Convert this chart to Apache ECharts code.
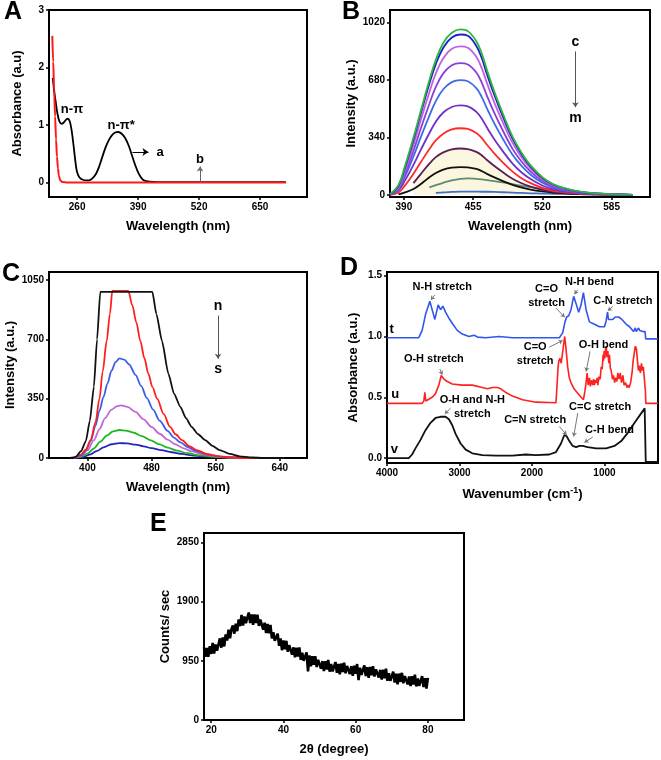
<!DOCTYPE html>
<html><head><meta charset="utf-8">
<script src="https://cdn.jsdelivr.net/npm/echarts@6/dist/echarts.min.js"></script>
<style>html,body{margin:0;padding:0;background:#fff}#c{width:661px;height:760px}</style>
</head><body><div id="c"></div>
<script>
// ---------- Panel A: UV-Vis absorbance ----------
const A_TICKS_X = [260, 390, 520, 650];
const A_TICKS_Y = [0, 1, 2, 3];
const A_CURVE_A_WL = [208,211,214,218,222,227,232,237,240,244,248,253,257,260,265,272,280,285,292,300,307,313,320,327,334,341,348,355,362,370,377,384,391,398,405,412,430,500,600,705];
const A_CURVE_A_ABS = [1.82,1.6,1.42,1.2,1.07,1.02,1.05,1.1,1.11,1.07,0.92,0.6,0.32,0.18,0.09,0.05,0.04,0.04,0.07,0.15,0.28,0.43,0.6,0.73,0.82,0.87,0.88,0.85,0.78,0.64,0.47,0.3,0.16,0.07,0.03,0.02,0.01,0.01,0.01,0.01];
const A_CURVE_B_WL = [207,209,211,213,215,217,219,221,224,228,240,705];
const A_CURVE_B_ABS = [2.55,2.1,1.6,1.15,0.75,0.45,0.25,0.12,0.04,0.01,0,0];

// ---------- Panel B: fluorescence c..m ----------
const B_TICKS_X = [390, 455, 520, 585];
const B_TICKS_Y = [0, 340, 680, 1020];
const B_WL = [377,385,391,399,406,414,420,427,435,443,450,458,463,468,475,483,492,500,509,520,530,541,555,570,588,605];
const B_C = [5,60,170,340,500,680,800,900,960,980,970,910,840,740,610,480,345,255,175,105,65,40,20,10,4,1];
const B_D = [4,55,160,325,485,660,775,872,932,950,942,882,812,715,590,462,333,245,168,100,62,38,19,9,4,1];
const B_E = [3,45,140,295,445,610,720,810,865,880,872,818,752,662,545,428,308,227,156,93,57,35,18,9,4,1];
const B_F = [3,40,125,262,395,540,640,720,768,780,772,725,667,587,484,380,273,201,138,82,50,31,16,8,3,1];
const B_G = [2,35,108,228,344,470,556,626,668,680,673,632,581,512,422,331,238,175,120,72,44,27,14,7,3,1];
const B_H = [2,27,85,178,268,367,434,488,521,530,525,492,453,399,329,258,186,136,94,56,34,21,11,5,2,1];
const B_I = [1,15,55,125,195,272,323,363,388,395,391,367,338,297,245,192,138,101,70,42,25,16,8,4,2,1];
const B_J = [null,null,null,70,125,185,224,252,270,275,272,255,235,207,171,134,96,71,49,30,19,12,7,4,2,1];
const B_K = [null,3,15,35,65,105,130,150,162,165,163,154,142,125,104,82,60,45,32,21,14,9,5,3,1,0];
const B_L = [null,null,null,null,null,45,58,72,86,95,98,95,92,88,82,74,64,55,46,37,30,24,null,null,null,null];
const B_M = [null,null,null,null,null,null,12,15,18,20,20,20,19,19,18,16,14,12,10,8,7,6,5,4,null,null];

// ---------- Panel C: fluorescence n..s ----------
const C_TICKS_X = [400, 480, 560, 640];
const C_TICKS_Y = [0, 350, 700, 1050];
const C_N = [[378,0],[385,5],[392,40],[398,100],[403,220],[408,420],[412,700],[416,980],[481,980],[486,850],[493,690],[501,497],[508,380],[516,301],[523,235],[530,184],[538,140],[547,105],[556,72],[565,47],[578,24],[590,10],[605,3],[620,0],[645,0]];
const C_O = [[383,0],[392,20],[398,50],[404,105],[410,210],[415,350],[419,510],[424,690],[428,850],[431,985],[451,985],[456,900],[461,800],[466,690],[471,590],[476,497],[481,420],[487,350],[495,260],[503,184],[510,140],[518,105],[527,70],[536,47],[550,22],[565,9],[580,3],[600,0],[645,0]];
const C_P = [[383,0],[392,15],[398,45],[404,100],[410,190],[415,280],[420,360],[425,440],[430,515],[435,565],[440,588],[446,580],[452,552],[460,490],[467,425],[474,355],[482,285],[490,220],[500,160],[508,120],[516,92],[525,65],[535,42],[550,20],[565,8],[580,3],[600,0],[645,0]];
const C_Q = [[383,0],[392,12],[400,45],[408,105],[415,170],[422,235],[430,285],[437,306],[442,310],[450,302],[460,272],[470,228],[480,183],[490,143],[500,108],[510,80],[520,57],[530,39],[545,21],[560,10],[580,3],[600,0],[645,0]];
const C_R = [[383,0],[392,8],[400,26],[408,56],[416,96],[424,132],[432,157],[440,165],[448,162],[458,149],[468,129],[478,106],[490,80],[500,61],[512,43],[525,28],[540,16],[555,8],[575,3],[600,0],[645,0]];
const C_S = [[385,0],[395,7],[403,20],[412,42],[420,63],[430,81],[440,88],[450,86],[460,79],[470,69],[480,58],[492,46],[505,34],[518,24],[530,16],[545,10],[560,5],[580,2],[600,0],[645,0]];

// ---------- Panel D: FTIR t, u, v ----------
const D_TICKS_X = [1000, 2000, 3000, 4000];
const D_TICKS_Y = [0, 0.5, 1.0, 1.5];
const D_T = [[4000,0.99],[3562,0.99],[3515,1.05],[3469,1.18],[3409,1.29],[3368,1.2],[3340,1.14],[3294,1.26],[3262,1.22],[3229,1.25],[3192,1.2],[3146,1.15],[3091,1.1],[3031,1.05],[2962,1.02],[2869,1.0],[2800,1.01],[2750,0.995],[2639,0.99],[2454,1.0],[2269,0.99],[2039,0.99],[1808,0.99],[1623,0.99],[1577,1.03],[1545,1.12],[1522,1.16],[1494,1.17],[1462,1.22],[1425,1.33],[1392,1.27],[1356,1.2],[1323,1.26],[1291,1.36],[1254,1.22],[1208,1.12],[1139,1.1],[1070,1.08],[1000,1.08],[977,1.13],[958,1.2],[945,1.14],[922,1.13],[885,1.14],[850,1.16],[805,1.16],[760,1.14],[700,1.1],[654,1.08],[600,1.04],[585,1.03],[575,1.07],[562,1.04],[545,1.04],[530,1.07],[515,1.05],[492,1.05],[469,1.04],[440,1.04],[432,0.98],[262,0.98]];
const D_U = [[4000,0.45],[3515,0.45],[3492,0.47],[3478,0.54],[3465,0.47],[3446,0.48],[3377,0.5],[3331,0.53],[3285,0.6],[3252,0.68],[3215,0.65],[3169,0.63],[3100,0.61],[2962,0.6],[2823,0.6],[2685,0.58],[2615,0.57],[2546,0.58],[2477,0.58],[2431,0.57],[2362,0.54],[2269,0.51],[2131,0.48],[1946,0.46],[1669,0.455],[1650,0.46],[1640,0.75],[1630,0.8],[1614,0.82],[1597,0.78],[1580,0.86],[1560,0.95],[1549,1.0],[1531,0.9],[1508,0.75],[1485,0.66],[1462,0.62],[1420,0.57],[1392,0.55],[1323,0.5],[1290,0.48],[1270,0.55],[1254,0.62],[1240,0.7],[1225,0.6],[1208,0.66],[1195,0.59],[1180,0.64],[1162,0.6],[1150,0.65],[1139,0.6],[1125,0.64],[1116,0.62],[1100,0.66],[1092,0.6],[1075,0.67],[1060,0.65],[1045,0.75],[1032,0.73],[1020,0.85],[1014,0.8],[1005,0.88],[995,0.82],[985,0.9],[977,0.92],[966,0.83],[954,0.88],[940,0.78],[931,0.85],[920,0.74],[908,0.72],[890,0.65],[877,0.68],[860,0.62],[849,0.66],[830,0.63],[816,0.7],[800,0.65],[783,0.7],[765,0.62],[746,0.68],[730,0.6],[709,0.62],[690,0.58],[677,0.6],[660,0.58],[640,0.62],[620,0.7],[605,0.8],[590,0.86],[575,0.92],[560,0.9],[545,0.8],[532,0.72],[520,0.76],[505,0.7],[490,0.78],[477,0.72],[465,0.75],[454,0.68],[443,0.6],[435,0.55],[430,0.45],[262,0.45]];
const D_V = [[4000,0],[3700,0],[3654,0.03],[3608,0.08],[3538,0.15],[3469,0.23],[3400,0.29],[3331,0.33],[3262,0.34],[3192,0.34],[3146,0.32],[3100,0.27],[3054,0.2],[2985,0.12],[2915,0.07],[2823,0.04],[2685,0.025],[2500,0.02],[2269,0.02],[2085,0.03],[1946,0.025],[1762,0.03],[1669,0.05],[1600,0.12],[1554,0.19],[1522,0.18],[1485,0.14],[1439,0.1],[1392,0.09],[1346,0.1],[1300,0.1],[1231,0.09],[1116,0.08],[977,0.08],[862,0.1],[769,0.14],[677,0.21],[585,0.29],[492,0.37],[446,0.41],[433,0.41],[431,-0.03],[262,-0.03]];

// ---------- Panel E: XRD ----------
const E_TICKS_X = [20, 40, 60, 80];
const E_TICKS_Y = [0, 950, 1900, 2850];
const E_ANGLE_START = 18.0, E_ANGLE_STEP = 0.4;
const E_COUNTS = [
 1165,1015,1155,1015,1185,1060,1235,1065,1210,1110,
 1140,1310,1160,1325,1180,1375,1275,1450,1310,1455,
 1515,1385,1545,1425,1615,1505,1685,1515,1660,1555,
 1570,1725,1555,1695,1525,1695,1555,1690,1510,1610,
 1625,1450,1560,1395,1540,1390,1525,1310,1410,1270,
 1260,1385,1190,1310,1120,1275,1135,1270,1095,1200,
 1225,1050,1165,1005,1160,1020,1165,965,1080,950,
 950,1085,780,1035,860,1025,885,1025,850,965,
 995,825,945,785,945,810,965,775,900,780,
 785,930,758,900,732,905,771,918,750,868,
 900,737,863,710,872,740,898,640,838,722,
 730,877,704,846,678,850,717,864,696,813,
 845,680,805,650,808,670,822,629,751,628,
 630,776,602,743,574,745,611,757,588,704,
 735,571,697,543,704,570,727,539,666,548,
 555,702,529,671,503,675];

// ---------- annotations (data coordinates) ----------
const A_NOTES = [[249,1.27,'n-π'],[354,1.0,'n-π*'],[437,0.53,'a'],[522,0.41,'b']];
const A_ARROWS_DARK = [[378,0.53,412,0.53]];
const A_ARROWS_GREY = [[522,0.0,522,0.28]];
const B_NOTES = [[551,905,'c'],[551,455,'m']];
const B_ARROWS = [[551,850,551,520]];
const C_NOTES = [[563,895,'n'],[563,525,'s']];
const C_ARROWS = [[563,840,563,585]];
const D_CURVE_NOTES = [[3935,1.06,'t'],[3885,0.52,'u'],[3900,0.075,'v']];
const D_NOTES = [[3238,1.405,'N-H stretch'],[1799,1.334,'C=O\nstretch'],[1208,1.444,'N-H bend'],[746,1.288,'C-N stretch'],
 [1956,0.858,'C=O\nstretch'],[1014,0.934,'O-H bend'],[3354,0.814,'O-H stretch'],[2823,0.419,'O-H and N-H\nstretch'],
 [1956,0.315,'C=N stretch'],[1060,0.419,'C=C stretch'],[931,0.233,'C-H bend']];
const D_ARROWS = [[3340,1.342,3395,1.301],[1669,1.233,1549,1.159],[1369,1.384,1416,1.348],[885,1.247,954,1.211],
 [1762,0.912,1577,0.967],[1199,0.877,1254,0.712],[3271,0.732,3238,0.685],[3123,0.411,3202,0.364],
 [1623,0.26,1522,0.192],[1369,0.37,1425,0.178],[1162,0.173,1277,0.129]];

// ---------- build ----------
const FONT = '"Liberation Sans", Arial, Helvetica, sans-serif';
const zip = (xs, ys) => xs.map((x, i) => [x, ys[i]]);

const grids = [
  {left:49, top:10, width:258, height:187},
  {left:390, top:10, width:260, height:187},
  {left:49, top:272, width:258, height:186},
  {left:387, top:272, width:271, height:191},
  {left:204, top:533, width:260, height:187}
].map(g => Object.assign({show:true, borderColor:'#000', borderWidth:2, backgroundColor:'transparent'}, g));

function axis(gi, min, max, ticks, name, gap, extra, fmt) {
  return Object.assign({
    gridIndex: gi, type: 'value', min, max,
    axisLine: {show: true, onZero: false, lineStyle: {color: '#000', width: 2}},
    axisTick: {show: true, length: 3, customValues: ticks, lineStyle: {color: '#000', width: 1.5}},
    axisLabel: {customValues: ticks, color: '#000', fontWeight: 'bold', fontSize: 10, fontFamily: FONT, margin: 5,
      formatter: fmt || (v => String(v))},
    splitLine: {show: false},
    name, nameLocation: 'middle', nameGap: gap,
    nameTextStyle: {color: '#000', fontWeight: 'bold', fontSize: 13, fontFamily: FONT}
  }, extra || {});
}

function line(gi, data, color, opts) {
  return Object.assign({
    type: 'line', xAxisIndex: gi, yAxisIndex: gi, data, showSymbol: false, symbol: 'none',
    lineStyle: {color, width: 1.8}, itemStyle: {color}, silent: true, z: 2
  }, opts || {});
}
function notes(gi, items, fontSize) {
  return {
    type: 'scatter', xAxisIndex: gi, yAxisIndex: gi, symbolSize: 1, silent: true, z: 6,
    itemStyle: {color: 'rgba(255,255,255,0)', opacity: 1},
    data: items.map(it => ({value: [it[0], it[1]], name: it[2]})),
    label: {show: true, position: 'inside', formatter: p => p.name, color: '#000', opacity: 1, fontWeight: 'bold',
      fontSize, fontFamily: FONT, lineHeight: fontSize + 3, align: 'center'}
  };
}
function arrows(gi, segs, color, size) {
  return {
    type: 'lines', coordinateSystem: 'cartesian2d', xAxisIndex: gi, yAxisIndex: gi, silent: true, z: 5,
    symbol: ['none', 'arrow'], symbolSize: size || 5,
    lineStyle: {color, width: 1, opacity: 1, curveness: 0},
    data: segs.map(s => ({coords: [[s[0], s[1]], [s[2], s[3]]]}))
  };
}

const xAxes = [
  axis(0, 200, 750, A_TICKS_X, 'Wavelength (nm)', 23),
  axis(1, 377, 621, B_TICKS_X, 'Wavelength (nm)', 23),
  axis(2, 352, 674, C_TICKS_X, 'Wavelength (nm)', 23),
  axis(3, 262, 4000, D_TICKS_X, 'Wavenumber (cm{sup|-1})', 23, {inverse: true,
    nameTextStyle: {color: '#000', fontWeight: 'bold', fontSize: 13, fontFamily: FONT,
      rich: {sup: {fontSize: 9, fontWeight: 'bold', color: '#000', fontFamily: FONT, verticalAlign: 'top', padding: [0, 0, 8, 0]}}}}),
  axis(4, 18, 90, E_TICKS_X, '2θ (degree)', 23)
];
const yAxes = [
  axis(0, -0.25, 3, A_TICKS_Y, 'Absorbance (a.u)', 25),
  axis(1, -12, 1095, B_TICKS_Y, 'Intensity (a.u.)', 32),
  axis(2, 0, 1097, C_TICKS_Y, 'Intensity (a.u.)', 32),
  axis(3, -0.04, 1.53, D_TICKS_Y, 'Absorbance (a.u.)', 27, null, v => v.toFixed(1)),
  axis(4, 0, 3000, E_TICKS_Y, 'Counts/ sec', 32)
];

const series = [
  // A
  line(0, zip(A_CURVE_A_WL, A_CURVE_A_ABS), '#000', {smooth: 0.35}),
  line(0, zip(A_CURVE_B_WL, A_CURVE_B_ABS), '#ff1a1a', {smooth: 0.3, smoothMonotone: 'x', lineStyle: {color: '#ff1a1a', width: 2}}),
  notes(0, A_NOTES, 13),
  arrows(0, A_ARROWS_DARK, '#000', 6),
  arrows(0, A_ARROWS_GREY, '#666', 5),
  // B
  line(1, zip(B_WL, B_J), '#fbf5da', {smooth: 0.4, lineStyle: {width: 0, opacity: 0}, areaStyle: {color: '#fbf6df', opacity: 1}, z: 1}),
  line(1, zip(B_WL, B_M), '#3b6fc8', {smooth: 0.4}),
  line(1, zip(B_WL, B_L), '#5f8c70', {smooth: 0.4}),
  line(1, zip(B_WL, B_K), '#111111', {smooth: 0.4}),
  line(1, zip(B_WL, B_J), '#5a2050', {smooth: 0.4}),
  line(1, zip(B_WL, B_I), '#ff2a2a', {smooth: 0.4}),
  line(1, zip(B_WL, B_H), '#7030c8', {smooth: 0.4}),
  line(1, zip(B_WL, B_G), '#3d6be6', {smooth: 0.4}),
  line(1, zip(B_WL, B_F), '#8a3fd8', {smooth: 0.4}),
  line(1, zip(B_WL, B_E), '#c060e0', {smooth: 0.4}),
  line(1, zip(B_WL, B_D), '#2020c8', {smooth: 0.4}),
  line(1, zip(B_WL, B_C), '#2db83d', {smooth: 0.4}),
  notes(1, B_NOTES, 14),
  arrows(1, B_ARROWS, '#555', 5),
  // C
  line(2, C_S, '#2424c0', {smooth: 0.3, smoothMonotone: 'x'}),
  line(2, C_R, '#22b522', {smooth: 0.3, smoothMonotone: 'x'}),
  line(2, C_Q, '#c066d8', {smooth: 0.3, smoothMonotone: 'x'}),
  line(2, C_P, '#3a5ee8', {smooth: 0.3, smoothMonotone: 'x'}),
  line(2, C_O, '#ff1f1f', {smooth: 0.3, smoothMonotone: 'x'}),
  line(2, C_N, '#111111', {smooth: 0.2, smoothMonotone: 'x'}),
  notes(2, C_NOTES, 14),
  arrows(2, C_ARROWS, '#555', 5),
  // D
  line(3, D_V, '#111111', {lineStyle: {color: '#111', width: 1.8}}),
  line(3, D_U, '#ff2020', {lineStyle: {color: '#ff2020', width: 1.6}}),
  line(3, D_T, '#3355ee', {lineStyle: {color: '#3355ee', width: 1.6}}),
  notes(3, D_CURVE_NOTES, 13),
  notes(3, D_NOTES, 11),
  arrows(3, D_ARROWS, '#777', 4),
  // E
  line(4, E_COUNTS.map((c, i) => [+(E_ANGLE_START + i * E_ANGLE_STEP).toFixed(1), c]), '#000', {lineStyle: {color: '#000', width: 2.6, join: 'bevel'}})
];

const letter = (t, l, tp) => ({text: t, left: l, top: tp, padding: 0,
  textStyle: {fontSize: 25, fontWeight: 'bold', fontFamily: FONT, color: '#000'}});

const chart = echarts.init(document.getElementById('c'), null, {renderer: 'canvas'});
chart.setOption({
  animation: false,
  backgroundColor: '#fff',
  title: [letter('A', 4, 0), letter('B', 342, 0), letter('C', 2, 262), letter('D', 340, 256), letter('E', 150, 512)],
  grid: grids,
  xAxis: xAxes,
  yAxis: yAxes,
  series
});
</script></body></html>
